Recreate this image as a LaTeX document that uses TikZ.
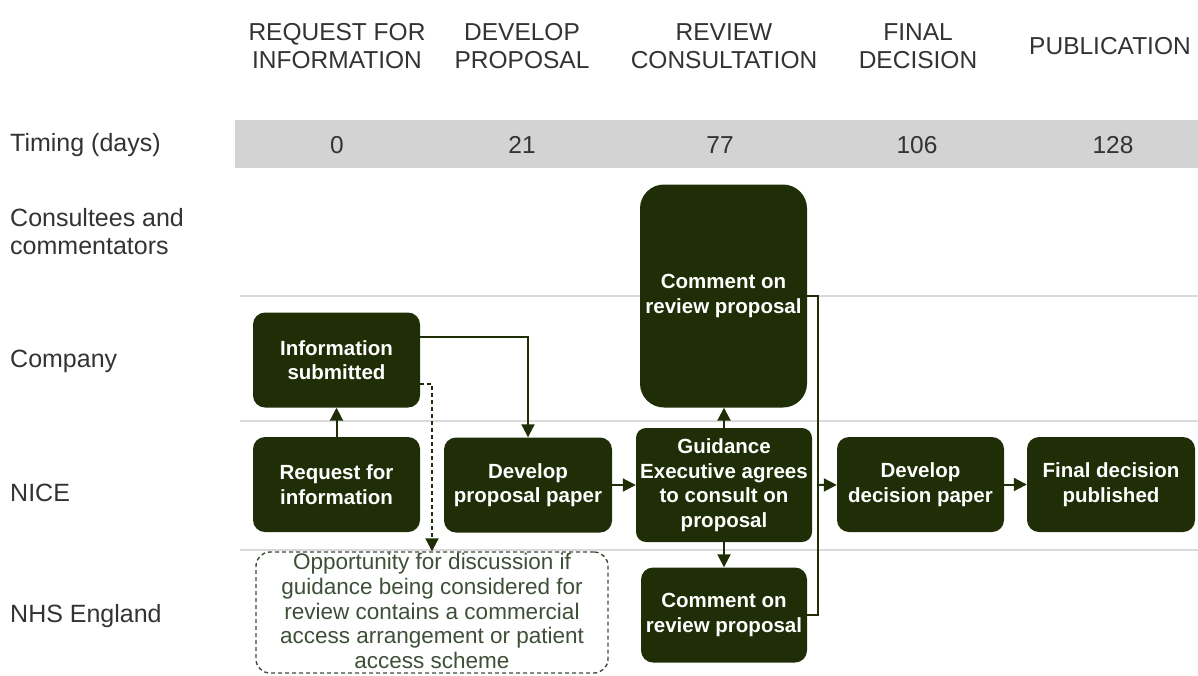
\documentclass[tikz,border=0pt]{standalone}
\usepackage{fontspec}
\setmainfont{Liberation Sans}
\usepackage{tikz}
\usetikzlibrary{arrows.meta}
\definecolor{boxgreen}{HTML}{1F2E06}
\definecolor{bandgray}{HTML}{D3D3D3}
\definecolor{lanegray}{HTML}{DADADA}
\definecolor{labelgray}{HTML}{333333}
\definecolor{oppgreen}{HTML}{3E4F38}

\begin{document}
\begin{tikzpicture}[x=1pt,y=-1pt,
		head/.style={text=labelgray,inner sep=0,align=center,font=\fontsize{24.5}{28.5}\selectfont},
		rowlabel/.style={anchor=west,text=labelgray,inner sep=0,align=left,font=\fontsize{25}{28}\selectfont},
		box/.style={fill=boxgreen,text=white,rounded corners=12pt,inner sep=0,align=center,
			minimum width=167pt,minimum height=95pt,font=\bfseries\fontsize{20.5}{24.5}\selectfont},
		arr/.style={draw=boxgreen,line width=2pt,-{Triangle[length=13pt,width=13pt]}},
		lane/.style={draw=lanegray,line width=2pt}]
		\useasboundingbox (0,0) rectangle (1198,675);
		
		%stage headings
		\node[head] (hreq) at (337,46) {REQUEST FOR\\INFORMATION};
		\node[head] (hdev) at (522,46) {DEVELOP\\PROPOSAL};
		\node[head] (hrev) at (724,46) {REVIEW\\CONSULTATION};
		\node[head] (hfin) at (918,46) {FINAL\\DECISION};
		\node[head] (hpub) at (1110,46) {PUBLICATION};
		
		%timing band
		\fill[bandgray] (235,120) rectangle (1198,168);
		\node[head] (treq) at (337,145) {0};
		\node[head] (tdev) at (522,145) {21};
		\node[head] (trev) at (720,145) {77};
		\node[head] (tfin) at (917,145) {106};
		\node[head] (tpub) at (1113,145) {128};
		
		%row labels
		\node[rowlabel] (ltime) at (10,145) {Timing (days)};
		\node[rowlabel] (lcons) at (10,232) {Consultees and\\commentators};
		\node[rowlabel] (lcomp) at (10,361) {Company};
		\node[rowlabel] (lnice) at (10,493) {NICE};
		\node[rowlabel] (lnhs) at (10,616) {NHS England};
		
		%lanes
		\draw[lane] (240,296) -- (1198,296);
		\draw[lane] (240,421) -- (1198,421);
		\draw[lane] (240,550) -- (1198,550);
		
		%boxes
		\node[box] (info) at (336.5,360) {Information\\submitted};
		\node[box] (req) at (336.5,484.5) {Request for\\information};
		\node[box,minimum width=168pt] (devprop) at (528,485) {Develop\\proposal paper};
		\node[box,minimum height=223pt,rounded corners=24pt] (comtop) at (723.5,296) {Comment on\\review proposal};
		\node[box,minimum width=176pt,minimum height=114pt,rounded corners=10pt] (guid) at (724,485) {Guidance\\Executive agrees\\to consult on\\proposal};
		\node[box,minimum width=166pt] (combot) at (724,615) {Comment on\\review proposal};
		\node[box] (devdec) at (920.5,484.5) {Develop\\decision paper};
		\node[box,minimum width=168pt] (final) at (1111,484.5) {Final decision\\published};
		
		%discussion
		\node[draw=oppgreen,dash pattern=on 4pt off 3pt,line width=1.4pt,rounded corners=14pt,minimum width=352pt,minimum height=121pt] (opp) at (432,612.5) {};
		\node[text=oppgreen,inner sep=0,align=center,font=\fontsize{22.5}{24.8}\selectfont] (opptext) at (432,611) {Opportunity for discussion if\\guidance being considered for\\review contains a commercial\\access arrangement or patient\\access scheme};
		
		%connectors
		\coordinate (join) at (818,485);
		\draw[arr] (req) -- (info);
		\draw[arr] ([yshift=23pt]info.east) -| (devprop.north);
		\draw[arr,dash pattern=on 4pt off 3pt] ([yshift=-24pt]info.east) -| (opp.north);
		\draw[arr] (devprop) -- (guid);
		\draw[arr] (guid.north) -- (guid.north |- comtop.south);
		\draw[arr] (guid) -- (combot);
		\draw[draw=boxgreen,line width=2pt] (comtop.east) -| (join) |- (combot.east);
		\draw[arr] (join) -- (devdec);
		\draw[arr] (devdec) -- (final);
		
\end{tikzpicture}
\end{document}
